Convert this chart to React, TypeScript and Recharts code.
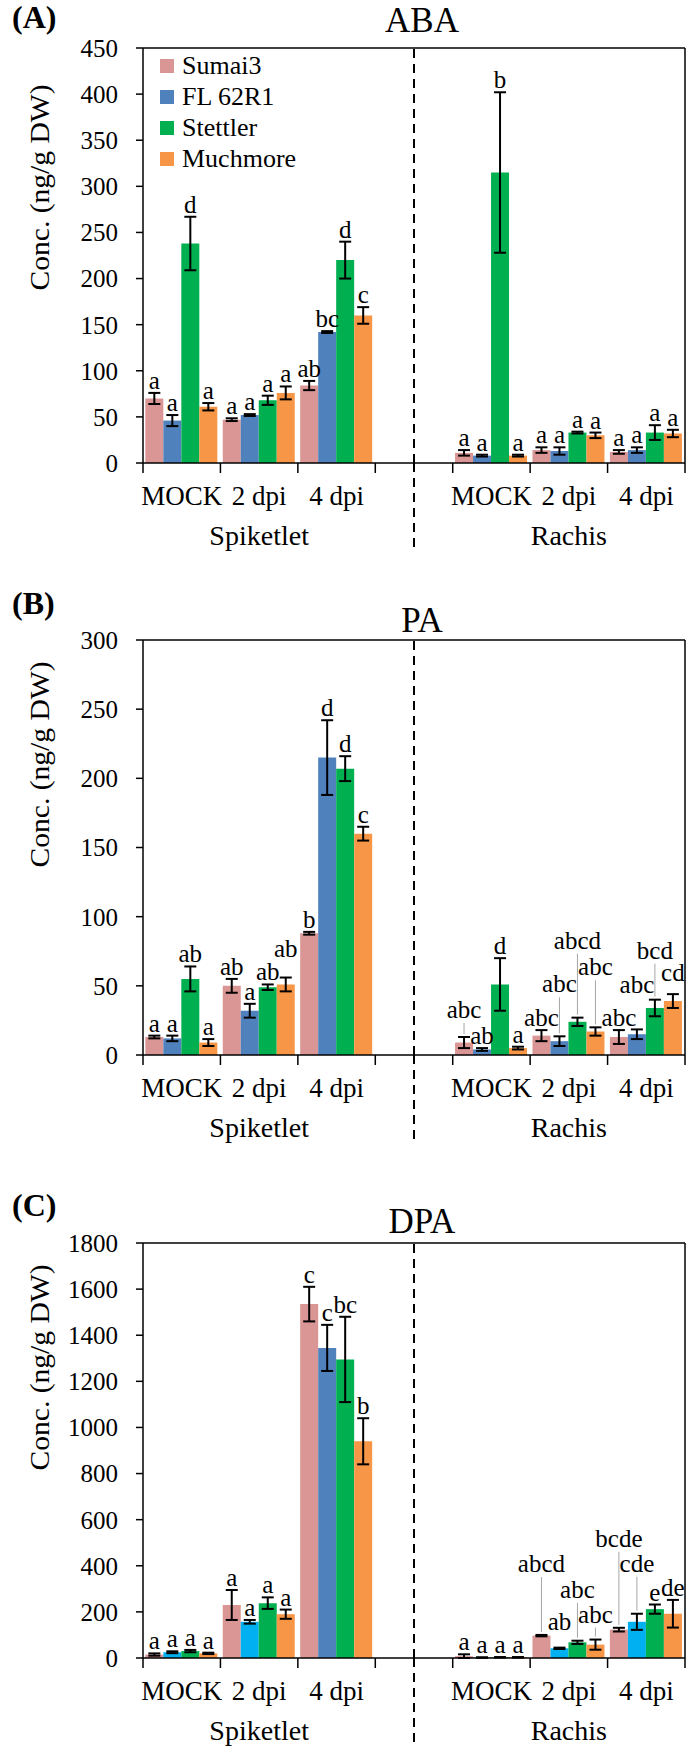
import React from "react";
import {
  BarChart,
  Bar,
  XAxis,
  YAxis,
  ErrorBar,
  LabelList,
  ReferenceLine,
  Legend,
  Cell,
} from "recharts";

const FONT = "Liberation Serif, serif";

// x slots: three spikelet time points, an empty spacer, three rachis time points
const CAT_KEYS = ["s-mock", "s-2", "s-4", "gap", "r-mock", "r-2", "r-4"];
const CAT_LABELS = ["MOCK", "2 dpi", "4 dpi", "", "MOCK", "2 dpi", "4 dpi"];
const GROUP_LABELS = ["", "Spiketlet", "", "", "", "Rachis", ""];

const SERIES = ["Sumai3", "FL 62R1", "Stettler", "Muchmore"];
const COLORS = ["#DA9694", "#4F81BD", "#00B050", "#F79646"];
const CYAN = "#00B0F0";

// ---- ABA ----
const ABA_TICKS = [0, 50, 100, 150, 200, 250, 300, 350, 400, 450];
const ABA_SUMAI3 = [70, 47, 84, null, 11, 14, 12];
const ABA_SUMAI3_ERR = [6, 1.5, 5, null, 3, 3, 2];
const ABA_SUMAI3_SIG = ["a", "a", "ab", "", "a", "a", "a"];
const ABA_FL62R1 = [46, 52, 142, null, 8, 13, 14];
const ABA_FL62R1_ERR = [6, 1, 1, null, 1, 4, 3];
const ABA_FL62R1_SIG = ["a", "a", "bc", "", "a", "a", "a"];
const ABA_STETTLER = [238, 68, 220, null, 315, 33, 33];
const ABA_STETTLER_ERR = [29, 5, 20, null, 87, 1, 8];
const ABA_STETTLER_SIG = ["d", "a", "d", "", "b", "a", "a"];
const ABA_MUCHMORE = [61, 76, 160, null, 8, 30, 32];
const ABA_MUCHMORE_ERR = [4, 7, 9, null, 1, 3, 4];
const ABA_MUCHMORE_SIG = ["a", "a", "c", "", "a", "a", "a"];

// ---- PA ----
const PA_TICKS = [0, 50, 100, 150, 200, 250, 300];
const PA_SUMAI3 = [13, 50, 88, null, 9, 14, 13];
const PA_SUMAI3_ERR = [1, 5, 1, null, 4, 4, 5];
const PA_SUMAI3_SIG = ["a", "ab", "b", "", "abc", "abc", "abc"];
const PA_FL62R1 = [12, 32, 215, null, 4, 10, 15];
const PA_FL62R1_ERR = [2, 5, 27, null, 1, 3.5, 3.5];
const PA_FL62R1_SIG = ["a", "a", "d", "", "ab", "abc", "abc"];
const PA_STETTLER = [55, 49, 207, null, 51, 24, 34];
const PA_STETTLER_ERR = [9, 2, 9, null, 19, 3, 6];
const PA_STETTLER_SIG = ["ab", "ab", "d", "", "d", "abcd", "bcd"];
const PA_MUCHMORE = [9, 51, 160, null, 5, 17, 39];
const PA_MUCHMORE_ERR = [2.5, 5, 5, null, 1, 3, 5];
const PA_MUCHMORE_SIG = ["a", "ab", "c", "", "a", "abc", "cd"];

// ---- DPA ----
const DPA_TICKS = [0, 200, 400, 600, 800, 1000, 1200, 1400, 1600, 1800];
const DPA_SUMAI3 = [15, 230, 1535, null, 8, 97, 123];
const DPA_SUMAI3_ERR = [5, 65, 75, null, 8, 3, 8];
const DPA_SUMAI3_SIG = ["a", "a", "c", "", "a", "abcd", "bcde"];
const DPA_FL62R1 = [25, 157, 1345, null, 2, 42, 157];
const DPA_FL62R1_ERR = [4, 8, 100, null, 1, 3, 35];
const DPA_FL62R1_SIG = ["a", "a", "c", "", "a", "ab", "cde"];
const DPA_STETTLER = [30, 238, 1295, null, 3, 68, 212];
const DPA_STETTLER_ERR = [5, 25, 185, null, 1, 7, 20];
const DPA_STETTLER_SIG = ["a", "a", "bc", "", "a", "abc", "e"];
const DPA_MUCHMORE = [20, 190, 940, null, 3, 58, 192];
const DPA_MUCHMORE_ERR = [3, 20, 100, null, 1, 22, 60];
const DPA_MUCHMORE_SIG = ["a", "a", "b", "", "a", "abc", "de"];
// the FL 62R1 bars of the DPA panel are mostly drawn in a lighter blue
const DPA_FL62R1_FILLS = [CYAN, CYAN, COLORS[1], CYAN, CYAN, CYAN, CYAN];

// letters that sit higher than their bar to avoid collisions: [lift px, leader line]
const NUDGES: Record<string, [number, boolean]> = {
  "PA-0-4": [15, true],
  "PA-1-5": [40, true],
  "PA-1-6": [32, false],
  "PA-2-5": [65, true],
  "PA-2-6": [37, true],
  "PA-3-1": [17, false],
  "PA-3-5": [48, true],
  "PA-3-6": [9, false],
  "DPA-0-5": [59, true],
  "DPA-1-5": [14, false],
  "DPA-2-5": [39, true],
  "DPA-3-5": [13, true],
  "DPA-0-6": [77, true],
  "DPA-1-6": [38, true],
};

const PLOT_H = 415;
const XAXIS_H = 90;

const PANELS = [
  {
    tag: "(A)",
    title: "ABA",
    top: 0,
    height: 572,
    plotTop: 48,
    max: 450,
    ticks: ABA_TICKS,
    vals: [ABA_SUMAI3, ABA_FL62R1, ABA_STETTLER, ABA_MUCHMORE],
    errs: [ABA_SUMAI3_ERR, ABA_FL62R1_ERR, ABA_STETTLER_ERR, ABA_MUCHMORE_ERR],
    sigs: [ABA_SUMAI3_SIG, ABA_FL62R1_SIG, ABA_STETTLER_SIG, ABA_MUCHMORE_SIG],
    fills: [null, null, null, null],
    tagDy: -20,
    titleDy: -16,
    yLabelShift: -68,
    legend: true,
  },
  {
    tag: "(B)",
    title: "PA",
    top: 572,
    height: 603,
    plotTop: 68,
    max: 300,
    ticks: PA_TICKS,
    vals: [PA_SUMAI3, PA_FL62R1, PA_STETTLER, PA_MUCHMORE],
    errs: [PA_SUMAI3_ERR, PA_FL62R1_ERR, PA_STETTLER_ERR, PA_MUCHMORE_ERR],
    sigs: [PA_SUMAI3_SIG, PA_FL62R1_SIG, PA_STETTLER_SIG, PA_MUCHMORE_SIG],
    fills: [null, null, null, null],
    tagDy: -26,
    titleDy: -8,
    yLabelShift: -83,
    legend: false,
  },
  {
    tag: "(C)",
    title: "DPA",
    top: 1175,
    height: 573,
    plotTop: 68,
    max: 1800,
    ticks: DPA_TICKS,
    vals: [DPA_SUMAI3, DPA_FL62R1, DPA_STETTLER, DPA_MUCHMORE],
    errs: [DPA_SUMAI3_ERR, DPA_FL62R1_ERR, DPA_STETTLER_ERR, DPA_MUCHMORE_ERR],
    sigs: [DPA_SUMAI3_SIG, DPA_FL62R1_SIG, DPA_STETTLER_SIG, DPA_MUCHMORE_SIG],
    fills: [null, DPA_FL62R1_FILLS, null, null],
    tagDy: -27,
    titleDy: -10,
    yLabelShift: -83,
    legend: false,
  },
];

type PanelDef = (typeof PANELS)[number];

function buildRows(p: PanelDef) {
  return CAT_KEYS.map((key, i) => {
    const row: Record<string, any> = { key };
    SERIES.forEach((_, s) => {
      row[`v${s}`] = p.vals[s][i];
      row[`e${s}`] = p.errs[s][i];
    });
    return row;
  });
}

function CatTick(props: any) {
  const { x, y, payload } = props;
  const i = CAT_KEYS.indexOf(payload.value);
  const half =
    payload.offset ?? (props.width ? props.width / CAT_KEYS.length / 2 : 38.7);
  return (
    <g>
      {i === 0 && (
        <line x1={x - half} x2={x - half} y1={y} y2={y + 10} stroke="#000" strokeWidth={1.5} />
      )}
      <line x1={x + half} x2={x + half} y1={y} y2={y + 10} stroke="#000" strokeWidth={1.5} />
      {CAT_KEYS[i] === "gap" && (
        <line x1={x} x2={x} y1={y} y2={y + 88} stroke="#000" strokeWidth={2} strokeDasharray="9 6" />
      )}
      <text x={x} y={y + 42} textAnchor="middle" fontSize={27} fontFamily={FONT} fill="#000">
        {CAT_LABELS[i]}
      </text>
      {GROUP_LABELS[i] && (
        <text x={x} y={y + 82} textAnchor="middle" fontSize={28} fontFamily={FONT} fill="#000">
          {GROUP_LABELS[i]}
        </text>
      )}
    </g>
  );
}

// letter content reads the category key (LabelList value) to find its slot
function makeSigLabel(p: PanelDef, s: number) {
  return function SigLabel(props: any) {
    const i = CAT_KEYS.indexOf(props.value);
    const vb = props.viewBox ?? props;
    if (i < 0 || vb == null) return null;
    const v = p.vals[s][i];
    const e = p.errs[s][i] ?? 0;
    const t = p.sigs[s][i];
    if (v == null || !t) return null;
    const h = Math.abs(vb.height);
    const per = v > 0 ? h / v : 0;
    const barTop = Math.min(vb.y, vb.y + vb.height);
    const errTop = barTop - e * per;
    const [lift, leader] = NUDGES[`${p.title}-${s}-${i}`] ?? [0, false];
    const base = errTop - 4 - lift;
    const cx = vb.x + vb.width / 2;
    return (
      <g>
        {leader && (
          <line x1={cx} x2={cx} y1={base + 5} y2={errTop - 3} stroke="#a6a6a6" strokeWidth={1} />
        )}
        <text x={cx} y={base} textAnchor="middle" fontSize={25} fontFamily={FONT} fill="#000">
          {t}
        </text>
      </g>
    );
  };
}

function LegendBox() {
  return (
    <div style={{ fontFamily: FONT, fontSize: 26, color: "#000" }}>
      {SERIES.map((name, s) => (
        <div key={name} style={{ display: "flex", alignItems: "center", height: 31 }}>
          <span
            style={{
              display: "inline-block",
              width: 14,
              height: 14,
              background: COLORS[s],
              marginRight: 8,
            }}
          />
          <span>{name}</span>
        </div>
      ))}
    </div>
  );
}

function HeaderLabel(p: PanelDef) {
  return function Header(props: any) {
    const vb = props.viewBox ?? {};
    return (
      <g>
        <text x={12} y={vb.y + p.tagDy} fontSize={32} fontWeight="bold" fontFamily={FONT} fill="#000">
          {p.tag}
        </text>
        <text
          x={vb.x + vb.width / 2 + 8}
          y={vb.y + p.titleDy}
          textAnchor="middle"
          fontSize={35}
          fontFamily={FONT}
          fill="#000"
        >
          {p.title}
        </text>
      </g>
    );
  };
}

function YTitle(p: PanelDef) {
  return function Title(props: any) {
    const vb = props.viewBox ?? {};
    const cx = 40;
    const cy = vb.y + vb.height / 2 + p.yLabelShift;
    return (
      <text
        x={cx}
        y={cy}
        transform={`rotate(-90 ${cx} ${cy})`}
        textAnchor="middle"
        dominantBaseline="central"
        fontSize={27}
        textLength={206}
        lengthAdjust="spacingAndGlyphs"
        fontFamily={FONT}
        fill="#000"
      >
        Conc. (ng/g DW)
      </text>
    );
  };
}

function Panel({ p }: { p: PanelDef }) {
  const data = buildRows(p);
  return (
    <div style={{ position: "absolute", left: 0, top: p.top, width: 700, height: p.height }}>
      <BarChart
        width={700}
        height={p.height}
        data={data}
        margin={{
          top: p.plotTop,
          right: 15,
          bottom: p.height - p.plotTop - PLOT_H - XAXIS_H,
          left: 0,
        }}
        barCategoryGap="3%"
        barGap={0}
      >
        <XAxis
          dataKey="key"
          height={XAXIS_H}
          interval={0}
          tickSize={0}
          tickMargin={0}
          tickLine={false}
          tick={<CatTick />}
          axisLine={{ stroke: "#000", strokeWidth: 1.5 }}
        />
        <YAxis
          width={143}
          domain={[0, p.max]}
          ticks={p.ticks}
          interval={0}
          allowDataOverflow
          tickSize={7}
          tickMargin={18}
          tickLine={{ stroke: "#000", strokeWidth: 1.5 }}
          axisLine={{ stroke: "#000", strokeWidth: 1.5 }}
          tick={{ fontSize: 25, fontFamily: FONT, fill: "#000" }}
          label={YTitle(p)}
        />
        {/* plot frame: top edge carries the panel header, right edge closes the box */}
        <ReferenceLine y={p.max} stroke="#000" strokeWidth={1.5} label={HeaderLabel(p)} />
        <ReferenceLine x="r-4" position="end" stroke="#000" strokeWidth={1.5} />
        <ReferenceLine x="gap" stroke="#000" strokeWidth={2} strokeDasharray="9 6" />
        {SERIES.map((name, s) => {
          const fills = p.fills[s];
          return (
            <Bar key={name} dataKey={`v${s}`} name={name} fill={COLORS[s]} isAnimationActive={false}>
              {fills && CAT_KEYS.map((k, i) => <Cell key={k} fill={fills[i]} />)}
              <ErrorBar dataKey={`e${s}`} width={6} strokeWidth={2} stroke="#000" direction="y" />
              <LabelList dataKey="key" content={makeSigLabel(p, s)} />
            </Bar>
          );
        })}
        {p.legend && (
          <Legend
            layout="vertical"
            align="center"
            verticalAlign="middle"
            wrapperStyle={{ left: 160, top: 50, width: 200, height: 124 }}
            content={() => <LegendBox />}
          />
        )}
      </BarChart>
    </div>
  );
}

export default function App() {
  return (
    <div
      style={{
        position: "absolute",
        left: 0,
        top: 0,
        width: 700,
        height: 1748,
        overflow: "hidden",
        background: "#fff",
      }}
    >
      {PANELS.map((p) => (
        <Panel key={p.title} p={p} />
      ))}
    </div>
  );
}
